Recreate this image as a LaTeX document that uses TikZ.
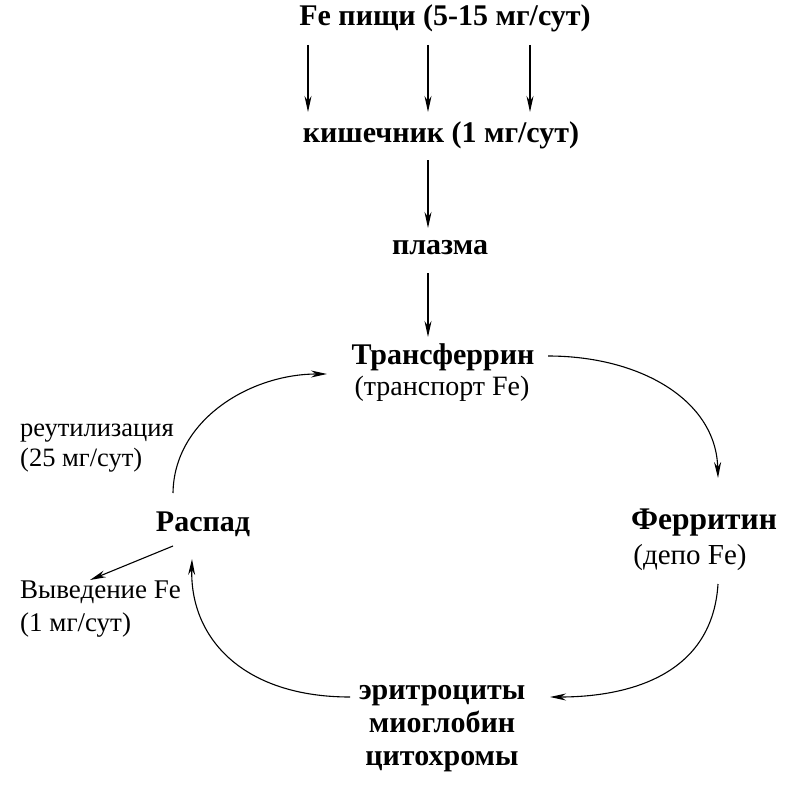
\documentclass[tikz,border=0pt]{standalone}
\usepackage{fontspec}
\setmainfont{Liberation Serif}
\usetikzlibrary{arrows.meta}
\begin{document}
\begin{tikzpicture}[x=1pt,y=-1pt,
  lbl/.style={inner sep=0pt, font=\fontsize{28}{36}\selectfont},
  blbl/.style={lbl, font=\fontsize{30}{36}\selectfont\bfseries},
  arr/.style={line width=1.1pt, -{Stealth[length=16pt,width=7pt]}}]
\useasboundingbox (0,0) rectangle (800,797);
\node[blbl] (food) at (445,18) {Fe пищи (5-15 мг/сут)};
\node[blbl] (gut) at (441,135) {кишечник (1 мг/сут)};
\node[blbl] (plasma) at (440,248) {плазма};
\node[blbl] (tf) at (443,357) {Трансферрин};
\node[lbl] (tfs) at (442,389) {(транспорт Fe)};
\node[blbl, font=\fontsize{31.5}{36}\selectfont\bfseries] (fer) at (704,523) {Ферритин};
\node[lbl, font=\fontsize{29}{36}\selectfont] (fers) at (690,558) {(депо Fe)};
\node[blbl, align=center, font=\fontsize{30}{33}\selectfont\bfseries] (ery) at (442,729) {эритроциты\\миоглобин\\цитохромы};
\node[blbl] (dec) at (203,524) {Распад};
\node[lbl, align=left, anchor=west, font=\fontsize{26.5}{30}\selectfont] (reu) at (20,448) {реутилизация\\(25 мг/сут)};
\node[lbl, align=left, anchor=west, font=\fontsize{27}{33}\selectfont] (out) at (20,609) {Выведение Fe\\(1 мг/сут)};
% vertical arrows
\coordinate (a1s) at (308,45); \coordinate (a1e) at (308,112);
\coordinate (a2s) at (428,45); \coordinate (a2e) at (428,112);
\coordinate (a3s) at (530,45); \coordinate (a3e) at (530,112);
\draw[arr] (a1s) -- (a1e);
\draw[arr] (a2s) -- (a2e);
\draw[arr] (a3s) -- (a3e);
\coordinate (b1) at (428,160); \coordinate (b2) at (428,228);
\draw[arr] (b1) -- (b2);
\coordinate (c1) at (428,273); \coordinate (c2) at (428,337);
\draw[arr] (c1) -- (c2);
% cycle
\coordinate (tfR) at (548,356); \coordinate (ferT) at (718,478);
\draw[arr] (tfR) .. controls (640,356) and (716,400) .. (ferT);
\coordinate (ferB) at (718,584); \coordinate (eryR) at (550,697);
\draw[arr] (ferB) .. controls (712,680) and (620,697) .. (eryR);
\coordinate (eryL) at (350,697); \coordinate (decB) at (192,559);
\draw[arr] (eryL) .. controls (245,697) and (190,640) .. (decB);
\coordinate (decT) at (173,493); \coordinate (tfL) at (327,374);
\draw[arr] (decT) .. controls (174,420) and (250,374) .. (tfL);
\coordinate (decL) at (173,546); \coordinate (outT) at (90,580);
\draw[arr] (decL) -- (outT);
\end{tikzpicture}
\end{document}
